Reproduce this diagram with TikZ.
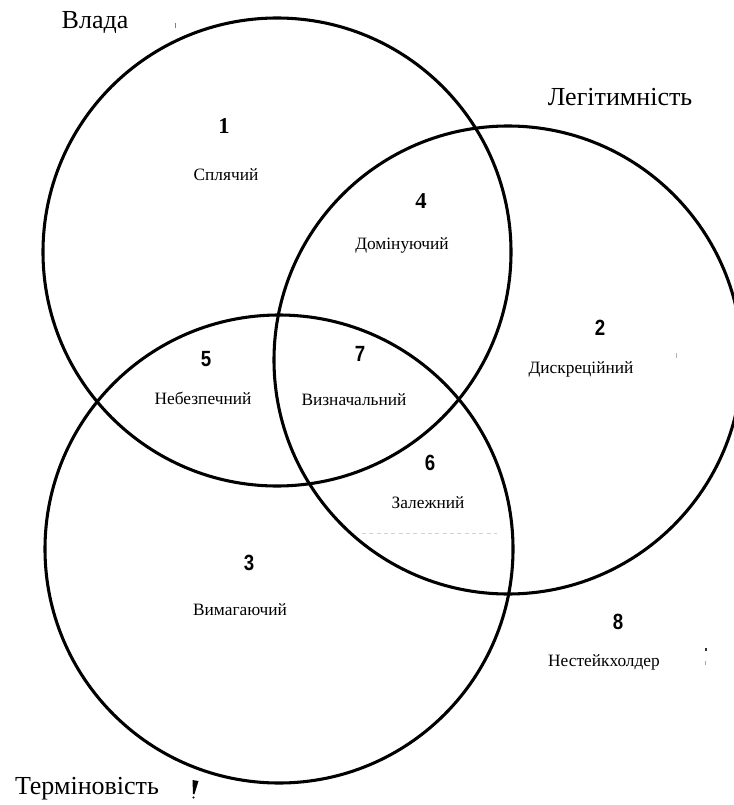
\documentclass[tikz,border=0pt]{standalone}
\usepackage{fontspec}
\setmainfont{Liberation Serif}
\newfontfamily\numfont[FakeStretch=0.85]{Liberation Sans}
\begin{document}
\begin{tikzpicture}[x=0.75pt,y=-0.75pt,
  ring/.style={line width=2.3pt},
  title/.style={font=\fontsize{19.5}{22}\selectfont, inner sep=0pt},
  region/.style={font=\fontsize{13}{15}\selectfont, inner sep=0pt},
  num/.style={font=\numfont\bfseries\fontsize{16.5}{18}\selectfont, inner sep=0pt},
  numserif/.style={font=\bfseries\fontsize{17}{19}\selectfont, inner sep=0pt},
  speck/.style={fill=black}]
\useasboundingbox (0,0) rectangle (733,805);

% the three attribute circles
\draw[ring] (277,252) circle[radius=175.5pt];
\draw[ring] (508,360) circle[radius=175.5pt];
\draw[ring] (279,549) circle[radius=175.5pt];

% circle titles
\node[title] (power)   at (95,23)  {Влада};
\node[title] (legit)   at (620,97) {Легітимність};
\node[title] (urgency) at (87,789) {Терміновість};

% region numbers and stakeholder classes
\node[numserif] (n1) at (224,126) {1};
\node[region]   (r1) at (226,175) {Сплячий};
\node[numserif] (n4) at (421,201) {4};
\node[region]   (r4) at (402,245) {Домінуючий};
\node[num]      (n2) at (600,328) {2};
\node[region]   (r2) at (581,369) {Дискреційний};
\node[num]      (n5) at (206,359) {5};
\node[region]   (r5) at (203,398) {Небезпечний};
\node[num]      (n7) at (360,354) {7};
\node[region]   (r7) at (354,400) {Визначальний};
\node[num]      (n6) at (430,463) {6};
\node[region]   (r6) at (428,503) {Залежний};
\node[num]      (n3) at (249,563) {3};
\node[region]   (r3) at (240,610) {Вимагаючий};
\node[num]      (n8) at (618,622) {8};
\node[region]   (r8) at (604,662) {Нестейкхолдер};

% faint dashed stroke and small specks
\draw[gray!35, line width=0.6pt, dash pattern=on 3pt off 2.5pt] (362,533) -- (497,533);
\fill[speck] (192.5,780) -- (198.5,781) -- (194.5,794) -- (193,794) -- cycle;
\fill[speck] (193.5,797.5) circle[radius=0.9pt];
\fill[black!80] (704.5,648) rectangle (707,651);
\fill[gray!70] (705,661) rectangle (706,664.5);
\draw[gray, line width=0.6pt] (175.5,23) -- (175.5,28);
\draw[gray!60, line width=1pt] (676.5,353) -- (676.5,358);
\end{tikzpicture}
\end{document}
